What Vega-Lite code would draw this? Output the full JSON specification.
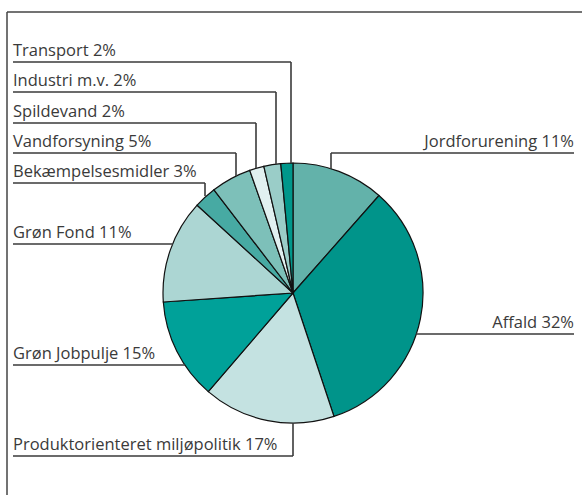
{
  "$schema": "https://vega.github.io/schema/vega-lite/v6.json",
  "width": 582,
  "height": 495,
  "padding": 0,
  "autosize": {"type": "none"},
  "background": "white",
  "config": {"view": {"stroke": null}},
  "datasets": {
    "slices": [
      {"category": "Jordforurening", "value": 11.5},
      {"category": "Affald", "value": 33.4},
      {"category": "Produktorienteret miljøpolitik", "value": 16.4},
      {"category": "Grøn Jobpulje", "value": 12.6},
      {"category": "Grøn Fond", "value": 12.9},
      {"category": "Bekæmpelsesmidler", "value": 2.8},
      {"category": "Vandforsyning", "value": 5.0},
      {"category": "Spildevand", "value": 1.8},
      {"category": "Industri m.v.", "value": 2.1},
      {"category": "Transport", "value": 1.5}
    ],
    "labels": [
      {"category": "Transport", "label": "Transport 2%", "side": "left", "x1": 13, "x2": 291, "y": 62, "vx": 291, "vy": 163},
      {"category": "Industri m.v.", "label": "Industri m.v. 2%", "side": "left", "x1": 13, "x2": 276, "y": 92, "vx": 276, "vy": 164},
      {"category": "Spildevand", "label": "Spildevand 2%", "side": "left", "x1": 13, "x2": 256, "y": 123, "vx": 256, "vy": 168},
      {"category": "Vandforsyning", "label": "Vandforsyning 5%", "side": "left", "x1": 13, "x2": 236, "y": 153, "vx": 236, "vy": 176},
      {"category": "Bekæmpelsesmidler", "label": "Bekæmpelsesmidler 3%", "side": "left", "x1": 13, "x2": 205, "y": 183, "vx": 205, "vy": 196},
      {"category": "Grøn Fond", "label": "Grøn Fond 11%", "side": "left", "x1": 13, "x2": 173, "y": 244, "vx": 173, "vy": 244},
      {"category": "Grøn Jobpulje", "label": "Grøn Jobpulje 15%", "side": "left", "x1": 13, "x2": 185, "y": 365, "vx": 185, "vy": 365},
      {"category": "Produktorienteret miljøpolitik", "label": "Produktorienteret miljøpolitik 17%", "side": "left", "x1": 13, "x2": 293, "y": 456, "vx": 293, "vy": 423},
      {"category": "Jordforurening", "label": "Jordforurening 11%", "side": "right", "x1": 331, "x2": 574, "y": 153, "vx": 331, "vy": 169},
      {"category": "Affald", "label": "Affald 32%", "side": "right", "x1": 416, "x2": 574, "y": 334, "vx": 416, "vy": 334}
    ]
  },
  "layer": [
    {
      "data": {"values": [{}]},
      "mark": {"type": "rule", "color": "#444444", "strokeWidth": 1.5},
      "encoding": {
        "x": {"datum": 7, "type": "quantitative", "scale": {"domain": [0, 582], "nice": false, "zero": false}, "axis": null},
        "y": {"datum": 12, "type": "quantitative", "scale": {"domain": [0, 495], "reverse": true, "nice": false, "zero": false}, "axis": null},
        "y2": {"datum": 495}
      }
    },
    {
      "data": {"values": [{}]},
      "mark": {"type": "rule", "color": "#444444", "strokeWidth": 1.5},
      "encoding": {
        "x": {"datum": 7, "type": "quantitative"},
        "x2": {"datum": 582},
        "y": {"datum": 12, "type": "quantitative"}
      }
    },
    {
      "data": {"name": "slices"},
      "transform": [{"window": [{"op": "row_number", "as": "idx"}]}],
      "mark": {"type": "arc", "radius": 130, "stroke": "#111111", "strokeWidth": 1.2},
      "encoding": {
        "theta": {"field": "value", "type": "quantitative", "stack": true},
        "order": {"field": "idx", "type": "quantitative"},
        "color": {
          "field": "category",
          "type": "nominal",
          "legend": null,
          "scale": {
            "domain": ["Jordforurening", "Affald", "Produktorienteret miljøpolitik", "Grøn Jobpulje", "Grøn Fond", "Bekæmpelsesmidler", "Vandforsyning", "Spildevand", "Industri m.v.", "Transport"],
            "range": ["#63b2aa", "#00948a", "#c4e2e1", "#00a199", "#acd6d3", "#47aaa3", "#7dc0b9", "#e1f0f0", "#9acdc8", "#00978b"]
          }
        },
        "x": {"datum": 293, "type": "quantitative"},
        "y": {"datum": 293, "type": "quantitative"}
      }
    },
    {
      "data": {"name": "labels"},
      "mark": {"type": "rule", "color": "#3a3a3a", "strokeWidth": 1.6},
      "encoding": {
        "x": {"field": "x1", "type": "quantitative"},
        "x2": {"field": "x2"},
        "y": {"field": "y", "type": "quantitative"}
      }
    },
    {
      "data": {"name": "labels"},
      "mark": {"type": "rule", "color": "#3a3a3a", "strokeWidth": 1.6},
      "encoding": {
        "x": {"field": "vx", "type": "quantitative"},
        "y": {"field": "y", "type": "quantitative"},
        "y2": {"field": "vy"}
      }
    },
    {
      "data": {"name": "labels"},
      "transform": [{"filter": {"field": "side", "equal": "left"}}],
      "mark": {"type": "text", "align": "left", "baseline": "alphabetic", "dy": -6, "font": "Open Sans", "fontSize": 16.5, "color": "#3a3a3a"},
      "encoding": {
        "x": {"field": "x1", "type": "quantitative"},
        "y": {"field": "y", "type": "quantitative"},
        "text": {"field": "label"}
      }
    },
    {
      "data": {"name": "labels"},
      "transform": [{"filter": {"field": "side", "equal": "right"}}],
      "mark": {"type": "text", "align": "right", "baseline": "alphabetic", "dy": -6, "font": "Open Sans", "fontSize": 16.5, "color": "#3a3a3a"},
      "encoding": {
        "x": {"field": "x2", "type": "quantitative"},
        "y": {"field": "y", "type": "quantitative"},
        "text": {"field": "label"}
      }
    }
  ]
}
